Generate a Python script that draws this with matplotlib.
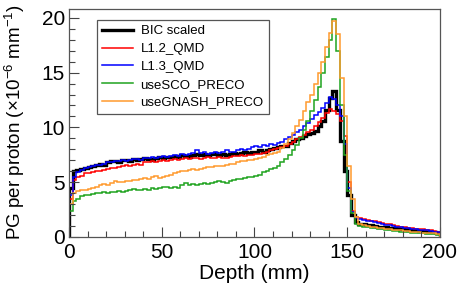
import numpy as np
import matplotlib
matplotlib.use("Agg")
import matplotlib.pyplot as plt
from matplotlib.ticker import MultipleLocator

plt.rcParams['font.family'] = ['Liberation Sans', 'DejaVu Sans']
plt.rcParams['mathtext.fontset'] = 'custom'
plt.rcParams['mathtext.rm'] = 'Liberation Sans'
plt.rcParams['mathtext.it'] = 'Liberation Sans:italic'

# depth bins (mm), 2 mm wide
edges = np.arange(0, 202, 2)

bic = [4.5, 6.0, 6.1, 6.2, 6.3, 6.4, 6.5, 6.6, 6.7, 6.6,
       6.8, 6.9, 6.9, 6.8, 7.0, 7.0, 6.9, 7.1, 7.0, 7.1,
       7.2, 7.1, 7.0, 7.2, 7.3, 7.2, 7.3, 7.3, 7.4, 7.3,
       7.5, 7.4, 7.3, 7.5, 7.6, 7.5, 7.6, 7.5, 7.6, 7.7,
       7.5, 7.6, 7.5, 7.6, 7.7, 7.6, 7.7, 7.8, 7.7, 7.8,
       7.8, 7.9, 7.8, 7.9, 8.0, 8.1, 8.2, 8.3, 8.3, 8.6,
       8.8, 8.9, 9.0, 9.2, 9.4, 9.5, 9.7, 10.1, 10.6, 11.6,
       12.7, 13.3, 11.6, 8.8, 6.0, 3.8, 2.0, 1.4, 1.2, 1.15,
       1.1, 1.05, 1.0, 0.95, 0.9, 0.88, 0.85, 0.8, 0.78, 0.75,
       0.7, 0.68, 0.65, 0.6, 0.58, 0.55, 0.5, 0.48, 0.45, 0.4]

l12_qmd = [3.5, 5.2, 5.5, 5.6, 5.8, 5.8, 5.9, 6.0, 6.0, 6.1,
           6.2, 6.3, 6.3, 6.4, 6.5, 6.6, 6.5, 6.6, 6.7, 6.6,
           6.8, 6.8, 6.9, 6.8, 6.9, 7.0, 6.9, 7.0, 7.1, 7.0,
           7.1, 7.2, 7.1, 7.2, 7.2, 7.1, 7.2, 7.3, 7.2, 7.2,
           7.3, 7.2, 7.2, 7.3, 7.4, 7.4, 7.5, 7.4, 7.5, 7.5,
           7.6, 7.6, 7.7, 7.8, 7.9, 8.0, 8.1, 8.2, 8.3, 8.5,
           8.7, 8.9, 9.1, 9.3, 9.6, 9.8, 10.1, 10.5, 10.9, 11.3,
           11.7, 11.5, 11.2, 10.6, 9.2, 5.0, 2.4, 1.8, 1.7, 1.6,
           1.55, 1.5, 1.45, 1.35, 1.3, 1.2, 1.15, 1.1, 1.0, 0.95,
           0.9, 0.85, 0.8, 0.75, 0.72, 0.7, 0.65, 0.6, 0.55, 0.5]

l13_qmd = [3.8, 5.5, 5.9, 6.1, 6.3, 6.4, 6.5, 6.6, 6.6, 6.7,
           6.8, 6.8, 6.9, 6.9, 7.0, 6.9, 7.0, 7.1, 7.1, 7.0,
           7.2, 7.2, 7.3, 7.2, 7.3, 7.4, 7.3, 7.4, 7.5, 7.4,
           7.6, 7.5, 7.6, 7.7, 7.9, 7.7, 7.8, 7.6, 7.7, 7.8,
           7.7, 7.8, 7.9, 7.8, 7.8, 7.9, 8.0, 7.9, 8.0, 8.2,
           8.3, 8.2, 8.4, 8.3, 8.5, 8.4, 8.6, 8.7, 8.9, 9.1,
           9.3, 9.6, 9.8, 10.1, 10.4, 10.8, 11.1, 11.4, 11.8, 12.2,
           12.8, 12.6, 12.0, 11.0, 8.5, 4.5, 2.3, 1.7, 1.6, 1.55,
           1.5, 1.45, 1.4, 1.3, 1.2, 1.1, 1.05, 1.0, 0.95, 0.9,
           0.85, 0.8, 0.75, 0.7, 0.68, 0.65, 0.6, 0.55, 0.5, 0.5]

sco_preco = [2.4, 3.3, 3.5, 3.7, 3.8, 3.8, 3.9, 4.0, 4.0, 4.1,
             4.0, 4.1, 4.1, 4.2, 4.1, 4.2, 4.3, 4.4, 4.3, 4.3,
             4.4, 4.3, 4.5, 4.4, 4.5, 4.6, 4.6, 4.5, 4.6, 4.5,
             4.7, 4.9, 4.7, 4.8, 4.7, 4.8, 4.9, 4.8, 4.9, 5.0,
             5.1, 5.0, 4.9, 5.1, 5.2, 5.3, 5.3, 5.4, 5.5, 5.5,
             5.6, 5.7, 5.9, 6.0, 6.2, 6.3, 6.5, 6.8, 7.1, 7.5,
             7.9, 8.4, 9.0, 9.8, 10.6, 11.5, 12.5, 13.7, 15.0, 16.4,
             18.0, 19.9, 17.0, 12.0, 7.5, 4.2, 2.2, 1.2, 1.0, 0.95,
             0.9, 0.85, 0.8, 0.75, 0.7, 0.65, 0.6, 0.55, 0.52, 0.5,
             0.45, 0.42, 0.4, 0.38, 0.35, 0.32, 0.3, 0.28, 0.25, 0.22]

gnash_preco = [3.0, 4.0, 4.2, 4.3, 4.3, 4.4, 4.5, 4.6, 4.7, 4.8,
               4.7, 4.9, 5.1, 5.0, 5.0, 5.1, 5.1, 5.2, 5.2, 5.3,
               5.4, 5.3, 5.5, 5.6, 5.4, 5.5, 5.6, 5.7, 5.8, 5.9,
               6.0, 6.0, 6.1, 6.2, 6.1, 6.2, 6.3, 6.4, 6.4, 6.5,
               6.5, 6.5, 6.6, 6.7, 6.7, 6.8, 6.9, 6.9, 7.0, 7.0,
               7.1, 7.2, 7.3, 7.5, 7.6, 7.7, 7.8, 8.1, 8.5, 8.9,
               9.5, 10.1, 10.7, 11.5, 12.3, 13.0, 14.0, 15.0, 16.0, 17.3,
               18.6, 19.7, 18.5, 14.5, 11.0, 6.5, 3.5, 1.8, 1.2, 1.1,
               1.0, 0.95, 0.9, 0.85, 0.8, 0.75, 0.7, 0.65, 0.62, 0.6,
               0.55, 0.52, 0.5, 0.45, 0.42, 0.4, 0.38, 0.35, 0.32, 0.3]

series = [
    ("BIC scaled", bic, "black", 2.4),
    ("L1.2_QMD", l12_qmd, "#ff0000", 1.1),
    ("L1.3_QMD", l13_qmd, "#0000ff", 1.1),
    ("useSCO_PRECO", sco_preco, "#1fa31f", 1.1),
    ("useGNASH_PRECO", gnash_preco, "#ff9a2e", 1.1),
]

fig = plt.figure(figsize=(4.58, 2.88), dpi=100)
ax = fig.add_axes([69 / 458, 1 - 237 / 288, 371 / 458, 228 / 288])

for label, vals, color, lw in series:
    ax.stairs(vals, edges, color=color, linewidth=lw, label=label)

ax.set_xlim(0, 200)
ax.set_ylim(0, 20.8)
ax.xaxis.set_major_locator(MultipleLocator(50))
ax.xaxis.set_minor_locator(MultipleLocator(10))
ax.yaxis.set_major_locator(MultipleLocator(5))
ax.yaxis.set_minor_locator(MultipleLocator(1))
ax.tick_params(which="both", direction="in", top=False, right=False,
               colors="#444444", labelcolor="black", labelsize=15, width=0.8)
ax.tick_params(which="major", length=7)
ax.tick_params(axis="x", which="major", pad=4)
ax.tick_params(axis="y", which="major", pad=3)
ax.tick_params(which="minor", length=4)
for sp in ax.spines.values():
    sp.set_color("#555555")
    sp.set_linewidth(0.9)

ax.set_xlabel("Depth (mm)", fontsize=15, labelpad=2)
# y label placed in figure pixels so it sits where the reference has it
fig.text(15 / 458, 1 - 122 / 288, "PG per proton (×10$^{-6}$ mm$^{-1}$)",
         fontsize=13.5, rotation=90, ha="center", va="center")

leg = ax.legend(loc="upper left", bbox_to_anchor=(0.0755, 0.952), fontsize=9.5,
                frameon=True, fancybox=False, edgecolor="#555555", framealpha=1,
                handlelength=2.3, handletextpad=0.6, labelspacing=0.42,
                borderpad=0.4, borderaxespad=0)
leg.get_frame().set_linewidth(0.9)

fig.savefig("out.png", dpi=100)
